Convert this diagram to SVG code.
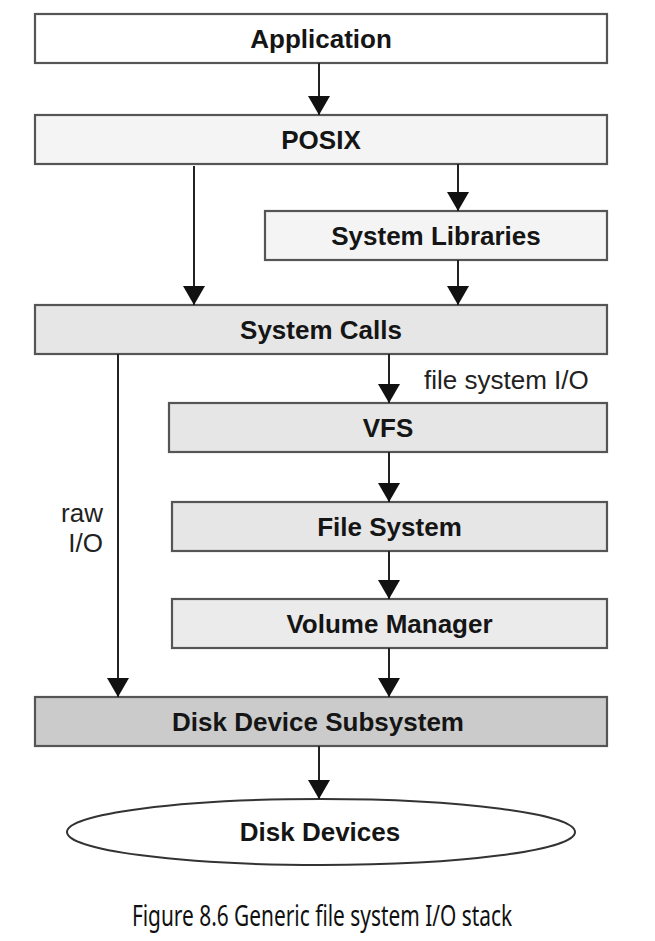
<svg xmlns="http://www.w3.org/2000/svg" width="655" height="941" viewBox="0 0 655 941">
<defs>
<marker id="ah" viewBox="0 0 22 18" refX="22" refY="9" markerWidth="19" markerHeight="22" markerUnits="userSpaceOnUse" orient="auto" preserveAspectRatio="none">
<path d="M0,0 L22,9 L0,18 z" fill="#111"/>
</marker>
<style>
.box{stroke:#555;stroke-width:2.2}
.lbl{font-family:"Liberation Sans",Arial,sans-serif;font-weight:bold;font-size:26px;fill:#151515;text-anchor:middle}
.note{font-family:"Liberation Sans",Arial,sans-serif;font-size:26px;fill:#222}
.conn line{stroke:#222;stroke-width:2;marker-end:url(#ah)}
.cap{font-family:"Noto Sans","Open Sans",sans-serif;font-size:29px;fill:#111;text-anchor:middle}
</style>
</defs>
<rect width="655" height="941" fill="#fff"/>
<g id="application"><rect class="box" x="35" y="14" width="572" height="49" fill="#ffffff"/><text class="lbl" x="321" y="48">Application</text></g>
<g id="posix"><rect class="box" x="35" y="115" width="572" height="49" fill="#f4f4f4"/><text class="lbl" x="321" y="149">POSIX</text></g>
<g id="system-libraries"><rect class="box" x="265" y="211" width="342" height="49" fill="#f4f4f4"/><text class="lbl" x="436" y="245">System Libraries</text></g>
<g id="system-calls"><rect class="box" x="35" y="305" width="572" height="49" fill="#e6e6e6"/><text class="lbl" x="321" y="339">System Calls</text></g>
<g id="vfs"><rect class="box" x="169" y="403" width="438" height="49" fill="#e6e6e6"/><text class="lbl" x="388" y="437">VFS</text></g>
<g id="file-system"><rect class="box" x="172" y="502" width="435" height="49" fill="#e6e6e6"/><text class="lbl" x="389.5" y="536">File System</text></g>
<g id="volume-manager"><rect class="box" x="172" y="599" width="435" height="49" fill="#ebebeb"/><text class="lbl" x="389.5" y="633">Volume Manager</text></g>
<g id="disk-device-subsystem"><rect class="box" x="35" y="697" width="572" height="49" fill="#cbcbcb"/><text class="lbl" x="318" y="731">Disk Device Subsystem</text></g>
<g id="disk-devices"><ellipse cx="321" cy="832" rx="254" ry="33" fill="#ffffff" stroke="#333" stroke-width="2"/><text class="lbl" x="320" y="841">Disk Devices</text></g>
<g id="connectors" class="conn">
<line x1="319" y1="63" x2="319" y2="115"/>
<line x1="194" y1="166" x2="194" y2="305"/>
<line x1="458" y1="164" x2="458" y2="211"/>
<line x1="458" y1="260" x2="458" y2="305"/>
<line x1="389" y1="354" x2="389" y2="403"/>
<line x1="389" y1="452" x2="389" y2="502"/>
<line x1="389" y1="551" x2="389" y2="599"/>
<line x1="389" y1="648" x2="389" y2="697"/>
<line x1="118" y1="354" x2="118" y2="697"/>
<line x1="319" y1="746" x2="319" y2="799"/>
</g>
<g id="labels">
<text class="note" x="424" y="389">file system I/O</text>
<text class="note" x="103" y="522" text-anchor="end">raw</text>
<text class="note" x="103" y="552" text-anchor="end">I/O</text>
</g>
<text class="cap" transform="translate(322,926) scale(0.72,1)" x="0" y="0">Figure 8.6 Generic file system I/O stack</text>
</svg>
